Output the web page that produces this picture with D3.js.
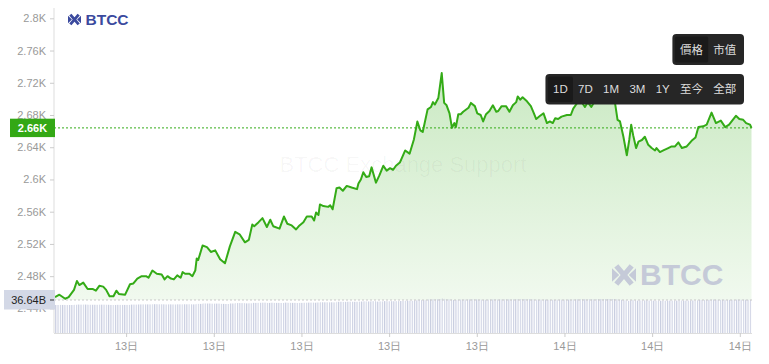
<!DOCTYPE html>
<html>
<head>
<meta charset="utf-8">
<script src="https://cdn.jsdelivr.net/npm/d3@7"></script>
<style>
  body { margin: 0; background: #fff; }
  svg { display: block; font-family: "Liberation Sans", Arial, "Noto Sans CJK SC", sans-serif; }
</style>
</head>
<body>
<div id="chart"></div>
<script>
// price series (day hh:mm, USD)
const times = [
  "13 06:34","13 06:43","13 06:55","13 07:02","13 07:13","13 07:19","13 07:24","13 07:32","13 07:41","13 07:52",
  "13 07:58","13 08:05","13 08:13","13 08:19","13 08:26","13 08:34","13 08:40","13 08:45","13 08:58","13 09:08",
  "13 09:15","13 09:23","13 09:32","13 09:41","13 09:46","13 09:54","13 10:03","13 10:13","13 10:19","13 10:25",
  "13 10:32","13 10:38","13 10:45","13 10:52","13 10:56","13 11:01","13 11:10","13 11:16","13 11:22","13 11:25",
  "13 11:28","13 11:37","13 11:46","13 11:54","13 12:03","13 12:13","13 12:23","13 12:33","13 12:44","13 12:53",
  "13 13:04","13 13:12","13 13:19","13 13:23","13 13:32","13 13:40","13 13:49","13 13:56","13 14:02","13 14:15",
  "13 14:24","13 14:31","13 14:40","13 14:49","13 14:56","13 15:04","13 15:11","13 15:21","13 15:26","13 15:30",
  "13 15:35","13 15:38","13 15:45","13 15:55","13 15:59","13 16:04","13 16:12","13 16:18","13 16:25","13 16:33",
  "13 16:43","13 16:54","13 16:57","13 17:02","13 17:07","13 17:13","13 17:19","13 17:24","13 17:33","13 17:40",
  "13 17:48","13 17:55","13 18:02","13 18:08","13 18:14","13 18:22","13 18:33","13 18:42","13 18:51","13 18:58",
  "13 19:04","13 19:09","13 19:19","13 19:26","13 19:30","13 19:34","13 19:41","13 19:48","13 19:53","13 19:58",
  "13 20:04","13 20:09","13 20:14","13 20:17","13 20:22","13 20:27","13 20:32","13 20:43","13 20:48","13 20:56",
  "13 21:01","13 21:08","13 21:13","13 21:19","13 21:26","13 21:33","13 21:40","13 21:44","13 21:51","13 22:00",
  "13 22:07","13 22:14","13 22:21","13 22:24","13 22:29","13 22:34","13 22:43","13 22:51","13 22:56","13 23:02",
  "13 23:10","13 23:17","13 23:24","13 23:30","13 23:36","13 23:41","13 23:47","13 23:54","14 00:05","14 00:13",
  "14 00:18","14 00:25","14 00:32","14 00:42","14 00:48","14 00:55","14 01:05","14 01:19","14 01:34","14 01:44",
  "14 01:49","14 01:54","14 02:01","14 02:08","14 02:13","14 02:17","14 02:21","14 02:27","14 02:32","14 02:39",
  "14 02:45","14 02:52","14 02:59","14 03:06","14 03:09","14 03:16","14 03:23","14 03:33","14 03:40","14 03:47",
  "14 03:54","14 04:01","14 04:11","14 04:21","14 04:29","14 04:35","14 04:45","14 04:52","14 05:02","14 05:11",
  "14 05:21","14 05:30","14 05:38","14 05:52","14 05:59","14 06:07","14 06:13","14 06:21","14 06:24"
];
const prices = [
  2454,2457,2452,2454,2463,2474,2469,2472,2464,2464,
  2462,2468,2467,2463,2455,2455,2462,2458,2457,2470,
  2471,2477,2480,2480,2478,2487,2483,2482,2476,2480,
  2477,2476,2481,2478,2485,2483,2483,2480,2487,2502,
  2500,2518,2516,2510,2512,2501,2496,2517,2535,2532,
  2522,2525,2544,2542,2547,2552,2541,2550,2542,2539,
  2554,2545,2543,2538,2543,2547,2554,2554,2549,2559,
  2556,2569,2567,2566,2568,2563,2589,2590,2586,2592,
  2590,2588,2595,2600,2609,2603,2604,2615,2596,2605,
  2617,2611,2614,2612,2617,2621,2636,2632,2650,2672,
  2661,2659,2687,2690,2696,2693,2701,2732,2695,2692,
  2682,2664,2670,2665,2681,2681,2684,2689,2695,2691,
  2682,2680,2672,2681,2685,2692,2684,2685,2691,2691,
  2684,2692,2696,2703,2699,2702,2697,2691,2684,2675,
  2679,2682,2670,2672,2670,2676,2675,2678,2680,2680,
  2688,2694,2699,2690,2696,2690,2700,2704,2706,2694,
  2674,2672,2653,2630,2649,2668,2655,2639,2647,2649,
  2653,2643,2639,2636,2639,2634,2636,2639,2641,2641,
  2646,2639,2641,2648,2652,2665,2666,2668,2683,2670,
  2673,2665,2668,2679,2675,2674,2670,2668,2664
];
const yTicks = [2440, 2480, 2520, 2560, 2600, 2640, 2680, 2720, 2760, 2800];
const supply = 13.754e6;            // coins, so that the last price gives 36.64B
const modeButtons = ["價格", "市值"];
const rangeButtons = ["1D", "7D", "1M", "3M", "1Y", "至今", "全部"];

const W = 769, H = 364;
const left = 54, right = 752, bottom = 333, capTop = 300;
const green = "#34ab17";

const parse = d3.timeParse("%d %H:%M");
const data = times.map((t, i) => ({ date: parse(t), price: prices[i], cap: prices[i] * supply }));
const last = data[data.length - 1];

const svg = d3.select("#chart").append("svg").attr("width", W).attr("height", H);

const x = d3.scaleTime().domain(d3.extent(data, d => d.date)).range([55, 751.5]);
const y = d3.scaleLinear().domain([2440, 2800]).range([308.4, 18.3]);
const yCap = d3.scaleLinear().domain([17.6e9, 36.64e9]).range([bottom, capTop]);
const fmtK = v => +(Math.floor(v / 10) / 100).toFixed(2) + "K";

const defs = svg.append("defs");
const grad = defs.append("linearGradient").attr("id", "fill").attr("x1", 0).attr("y1", 0).attr("x2", 0).attr("y2", 1);
grad.append("stop").attr("offset", "0%").attr("stop-color", green).attr("stop-opacity", 0.26);
grad.append("stop").attr("offset", "100%").attr("stop-color", green).attr("stop-opacity", 0.07);

// thin vertical stripes for the market-cap bars
const pat = defs.append("pattern").attr("id", "stripes")
  .attr("patternUnits", "userSpaceOnUse").attr("width", 2.3).attr("height", 40);
pat.append("rect").attr("width", 1.1).attr("height", 40).attr("fill", "#c8cde0");

// area + line
svg.append("path")
  .datum(data)
  .attr("fill", "url(#fill)")
  .attr("d", d3.area().x(d => x(d.date)).y0(capTop).y1(d => y(d.price)));

svg.append("path")
  .datum(data)
  .attr("fill", "none")
  .attr("stroke", green)
  .attr("stroke-width", 2)
  .attr("stroke-linejoin", "round")
  .attr("d", d3.line().x(d => x(d.date)).y(d => y(d.price)));

// market cap bars
svg.append("g")
  .selectAll("rect")
  .data(data)
  .enter()
  .append("rect")
  .attr("x", d => x(d.date))
  .attr("width", (d, i) => (i < data.length - 1 ? x(data[i + 1].date) : 750) - x(d.date))
  .attr("y", d => yCap(d.cap))
  .attr("height", d => bottom - yCap(d.cap))
  .attr("fill", "url(#stripes)");

// watermark
svg.append("text")
  .attr("x", 403).attr("y", 166)
  .attr("text-anchor", "middle").attr("dominant-baseline", "middle")
  .attr("font-size", 22)
  .attr("fill", "rgba(0,0,0,0.035)")
  .text("BTCC Exchange Support");

function logo(g, x0, y0, s, color, fontSize, gap) {
  const ic = g.append("g").attr("transform", `translate(${x0},${y0})`);
  ic.append("path")
    .attr("d", `M${s*0.18},${s*0.12}L${s*0.82},${s*0.88}M${s*0.82},${s*0.12}L${s*0.18},${s*0.88}`)
    .attr("stroke", color).attr("stroke-width", s * 0.22).attr("fill", "none");
  ic.append("path")
    .attr("d", `M0,${s*0.22}L${s*0.3},${s*0.5}L0,${s*0.78}ZM${s},${s*0.22}L${s*0.7},${s*0.5}L${s},${s*0.78}Z`)
    .attr("fill", color);
  g.append("text")
    .attr("x", x0 + s + gap).attr("y", y0 + s * 0.93)
    .attr("font-size", fontSize).attr("font-weight", "bold")
    .attr("fill", color)
    .text("BTCC");
}
logo(svg.append("g"), 68, 13, 13, "#3b4a9e", 15.5, 4.5);
logo(svg.append("g"), 612, 263, 24, "#c5cad8", 30, 4);

// y axis
svg.append("line").attr("x1", left).attr("x2", left).attr("y1", 8).attr("y2", bottom)
  .attr("stroke", "#ddd");
const yAxis = svg.append("g")
  .attr("transform", `translate(${left},0)`)
  .call(d3.axisLeft(y).tickValues(yTicks).tickSize(4).tickPadding(4).tickFormat(fmtK));
yAxis.select(".domain").remove();
yAxis.selectAll("line").attr("stroke", "#ccc");
yAxis.selectAll("text").attr("fill", "#999").attr("font-size", 11).attr("font-family", null);

// x axis
const xAxis = svg.append("g")
  .attr("transform", `translate(0,${bottom})`)
  .call(d3.axisBottom(x).ticks(d3.timeHour.every(3)).tickFormat(d3.timeFormat("%-d日")).tickSize(4).tickSizeOuter(0).tickPadding(5));
xAxis.select(".domain").attr("stroke", "#ddd").attr("d", `M${left},0.5H${right}`);
xAxis.selectAll("line").attr("stroke", "#ccc");
xAxis.selectAll("text").attr("fill", "#999").attr("font-size", 11).attr("font-family", null);

// market cap marker
const yc = yCap(last.cap);
svg.append("line").attr("x1", left).attr("x2", right).attr("y1", yc).attr("y2", yc)
  .attr("stroke", "#c8c8c8").attr("stroke-dasharray", "2,2");
svg.append("rect").attr("x", 4).attr("y", yc - 10).attr("width", 51).attr("height", 19.5).attr("fill", "#d3d8e6");
svg.append("line").attr("x1", 50).attr("x2", 54).attr("y1", yc).attr("y2", yc).attr("stroke", "#333");
svg.append("text").attr("x", 46).attr("y", yc).attr("dy", "0.35em").attr("text-anchor", "end")
  .attr("font-size", 11).attr("fill", "#222")
  .text((last.cap / 1e9).toFixed(2) + "B");

// last price marker
const yp = y(last.price);
svg.append("line").attr("x1", left).attr("x2", right).attr("y1", yp).attr("y2", yp)
  .attr("stroke", green).attr("stroke-dasharray", "2,2");
svg.append("rect").attr("x", 10).attr("y", yp - 9.2).attr("width", 45).attr("height", 18.4).attr("fill", "#33a815");
svg.append("text").attr("x", 32.5).attr("y", yp).attr("dy", "0.35em").attr("text-anchor", "middle")
  .attr("font-size", 11).attr("font-weight", "bold").attr("fill", "#fff")
  .text(fmtK(last.price));

// button bars (laid out right to left from x=744)
function buttonBar(labels, top, h, active) {
  const g = svg.append("g");
  const bg = g.append("rect").attr("y", top).attr("height", h).attr("rx", 4).attr("fill", "#262626");
  const hl = g.append("rect").attr("y", top + 2.5).attr("height", h - 5).attr("rx", 2).attr("fill", "#1a1a1a");
  const texts = g.selectAll("text").data(labels).enter().append("text")
    .attr("y", top + h / 2).attr("dy", "0.36em").attr("text-anchor", "middle")
    .attr("font-size", 11.5).attr("fill", "#ddd")
    .text(d => d);
  const widths = texts.nodes().map(n => n.getComputedTextLength() + 10.3);
  let cx = 744 - 2.5 - d3.sum(widths);
  texts.each(function (d, i) {
    d3.select(this).attr("x", cx + widths[i] / 2);
    if (i === active) hl.attr("x", cx).attr("width", widths[i]);
    cx += widths[i];
  });
  const x0 = 744 - 5 - d3.sum(widths);
  bg.attr("x", x0).attr("width", 744 - x0);
}
buttonBar(modeButtons, 34, 31, 0);
buttonBar(rangeButtons, 74, 30.5, 0);
</script>
</body>
</html>
